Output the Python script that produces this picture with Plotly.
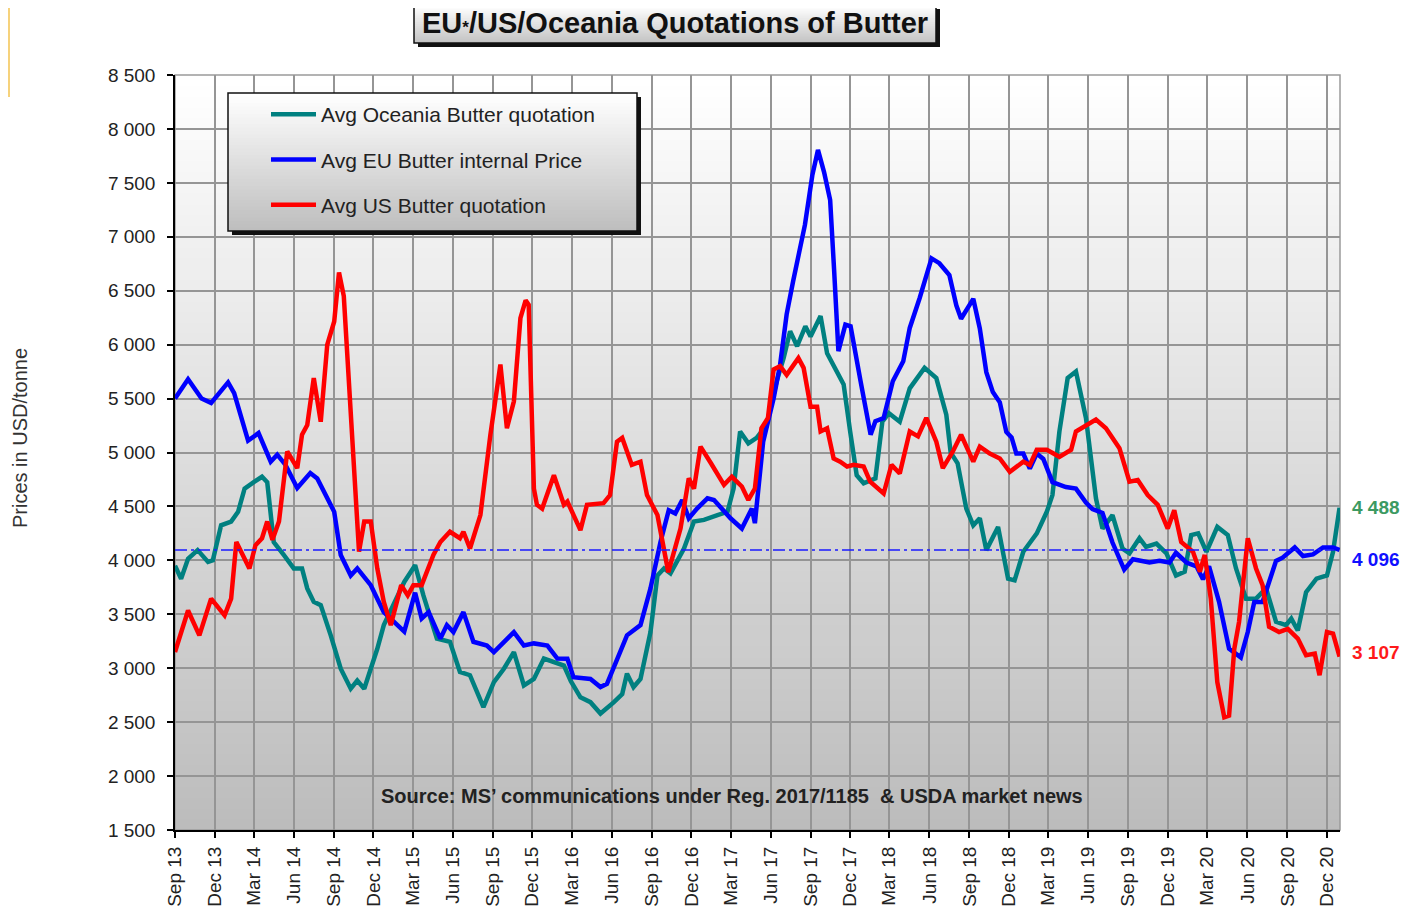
import plotly.graph_objects as go

# ---------------- data ----------------
eu_dates = ["2013-09-01","2013-10-01","2013-11-01","2013-11-23","2014-01-01","2014-01-15","2014-02-16","2014-03-12","2014-04-09","2014-04-24","2014-05-13","2014-06-09","2014-07-09","2014-07-25","2014-09-02","2014-09-17","2014-10-10","2014-10-25","2014-11-25","2014-12-25","2015-02-10","2015-03-07","2015-03-22","2015-04-07","2015-05-04","2015-05-19","2015-06-03","2015-06-26","2015-07-19","2015-08-19","2015-09-04","2015-10-20","2015-11-12","2015-12-05","2016-01-05","2016-01-28","2016-02-20","2016-03-05","2016-04-13","2016-05-06","2016-05-21","2016-07-06","2016-08-06","2016-08-29","2016-09-21","2016-10-10","2016-10-25","2016-11-10","2016-11-25","2016-12-14","2017-01-07","2017-01-22","2017-03-01","2017-03-27","2017-04-19","2017-04-26","2017-05-15","2017-06-08","2017-06-23","2017-07-08","2017-07-23","2017-08-19","2017-09-05","2017-09-18","2017-10-02","2017-10-16","2017-10-25","2017-11-04","2017-11-20","2017-12-02","2017-12-25","2018-01-17","2018-01-28","2018-02-16","2018-03-09","2018-04-02","2018-04-17","2018-05-10","2018-06-06","2018-06-24","2018-07-17","2018-08-02","2018-08-13","2018-09-10","2018-09-25","2018-10-10","2018-10-25","2018-11-10","2018-11-25","2018-12-07","2018-12-18","2019-01-03","2019-01-18","2019-02-03","2019-02-18","2019-03-11","2019-04-11","2019-05-04","2019-05-27","2019-06-11","2019-07-04","2019-07-27","2019-08-23","2019-09-12","2019-10-20","2019-11-12","2019-12-05","2019-12-20","2020-01-13","2020-02-05","2020-02-20","2020-03-05","2020-03-28","2020-04-20","2020-05-17","2020-06-02","2020-06-17","2020-07-06","2020-07-21","2020-08-06","2020-08-21","2020-09-18","2020-10-07","2020-10-30","2020-11-22","2020-12-15","2020-12-30"]
eu_values = [5500,5680,5500,5460,5650,5550,5110,5180,4915,4980,4885,4670,4810,4760,4450,4050,3860,3925,3770,3520,3340,3700,3460,3520,3275,3400,3335,3520,3245,3210,3150,3335,3210,3230,3210,3090,3088,2917,2900,2825,2855,3305,3400,3740,4170,4465,4435,4560,4390,4480,4575,4560,4390,4295,4480,4345,5100,5500,5815,6280,6590,7110,7570,7805,7600,7340,6700,5940,6185,6170,5660,5165,5290,5320,5660,5845,6155,6435,6800,6755,6645,6365,6240,6425,6150,5745,5560,5465,5190,5140,4990,4990,4850,4990,4940,4725,4680,4665,4535,4475,4440,4165,3915,4010,3980,3995,3980,4070,3980,3945,3825,3945,3615,3180,3100,3335,3615,3615,3800,3995,4025,4120,4040,4055,4120,4120,4096]

oce_dates = ["2013-09-01","2013-09-15","2013-10-01","2013-10-23","2013-11-16","2013-11-27","2013-12-16","2014-01-08","2014-01-24","2014-02-08","2014-03-01","2014-03-20","2014-04-01","2014-04-09","2014-04-16","2014-05-09","2014-06-01","2014-06-20","2014-07-02","2014-07-17","2014-08-02","2014-08-25","2014-09-17","2014-10-10","2014-10-25","2014-11-10","2014-12-10","2014-12-25","2015-02-10","2015-03-07","2015-03-26","2015-04-26","2015-05-26","2015-06-18","2015-07-11","2015-08-11","2015-09-04","2015-09-27","2015-10-20","2015-11-12","2015-12-05","2015-12-28","2016-01-20","2016-02-12","2016-02-28","2016-03-21","2016-04-13","2016-05-06","2016-06-06","2016-06-25","2016-07-06","2016-07-21","2016-08-06","2016-08-29","2016-09-14","2016-09-29","2016-10-14","2016-11-14","2016-12-07","2016-12-30","2017-01-30","2017-02-22","2017-03-08","2017-03-23","2017-04-11","2017-04-30","2017-05-23","2017-06-15","2017-07-01","2017-07-16","2017-08-01","2017-08-20","2017-09-01","2017-09-24","2017-10-09","2017-11-01","2017-11-16","2017-12-01","2017-12-16","2018-01-01","2018-01-28","2018-02-13","2018-02-28","2018-03-25","2018-04-17","2018-05-21","2018-06-17","2018-07-10","2018-07-20","2018-08-05","2018-08-25","2018-09-10","2018-09-25","2018-10-10","2018-11-06","2018-11-29","2018-12-14","2019-01-03","2019-02-03","2019-02-26","2019-03-11","2019-03-27","2019-04-15","2019-05-04","2019-05-27","2019-06-19","2019-07-04","2019-07-27","2019-08-19","2019-09-04","2019-09-27","2019-10-12","2019-11-05","2019-11-28","2019-12-20","2020-01-09","2020-01-24","2020-02-09","2020-02-28","2020-03-24","2020-04-17","2020-05-06","2020-05-29","2020-06-21","2020-07-14","2020-08-06","2020-08-29","2020-09-10","2020-09-25","2020-10-14","2020-11-07","2020-12-01","2020-12-15","2020-12-30"]
oce_values = [3950,3830,4015,4095,3985,4000,4325,4360,4450,4665,4725,4775,4725,4420,4170,4050,3925,3925,3740,3615,3585,3305,2995,2810,2885,2810,3180,3400,3800,3955,3675,3275,3245,2965,2935,2640,2870,2995,3150,2840,2900,3090,3055,3025,2880,2730,2685,2580,2685,2760,2950,2825,2900,3335,3860,3925,3880,4110,4360,4375,4420,4450,4665,5195,5085,5135,5255,5660,5875,6125,5985,6170,6075,6265,5920,5750,5630,5195,4790,4715,4760,5285,5365,5285,5595,5785,5690,5350,5000,4900,4480,4325,4390,4095,4310,3830,3815,4080,4250,4450,4605,5195,5690,5750,5320,4575,4295,4420,4110,4065,4205,4125,4155,4065,3860,3895,4235,4250,4080,4310,4235,3925,3645,3645,3740,3430,3400,3460,3350,3705,3830,3860,4080,4488]

us_dates = ["2013-09-01","2013-10-01","2013-10-27","2013-11-23","2013-12-24","2014-01-08","2014-01-20","2014-02-19","2014-03-05","2014-03-20","2014-04-01","2014-04-13","2014-04-28","2014-05-17","2014-06-09","2014-06-20","2014-07-02","2014-07-17","2014-08-02","2014-08-17","2014-09-02","2014-09-13","2014-09-24","2014-10-29","2014-11-10","2014-11-25","2014-12-10","2014-12-25","2015-01-10","2015-02-03","2015-02-18","2015-03-03","2015-03-22","2015-04-18","2015-05-04","2015-05-26","2015-06-18","2015-06-26","2015-07-11","2015-08-04","2015-08-27","2015-09-19","2015-10-04","2015-10-20","2015-11-04","2015-11-16","2015-11-23","2015-12-05","2015-12-12","2015-12-24","2016-01-20","2016-02-12","2016-02-20","2016-03-21","2016-04-05","2016-05-13","2016-05-28","2016-06-13","2016-06-25","2016-07-17","2016-08-06","2016-08-21","2016-09-14","2016-10-09","2016-11-06","2016-11-25","2016-12-07","2016-12-22","2017-01-15","2017-02-14","2017-03-04","2017-03-27","2017-04-11","2017-04-26","2017-05-11","2017-05-26","2017-06-08","2017-06-23","2017-07-08","2017-08-04","2017-08-16","2017-09-01","2017-09-16","2017-09-24","2017-10-09","2017-10-24","2017-11-08","2017-11-24","2017-12-09","2018-01-01","2018-01-16","2018-02-16","2018-03-06","2018-03-25","2018-04-17","2018-05-06","2018-05-25","2018-06-17","2018-07-02","2018-07-25","2018-08-13","2018-09-10","2018-09-25","2018-10-18","2018-11-10","2018-12-03","2019-01-03","2019-01-18","2019-02-03","2019-02-26","2019-03-27","2019-04-23","2019-05-04","2019-05-27","2019-06-19","2019-07-12","2019-08-12","2019-09-04","2019-09-23","2019-10-16","2019-11-08","2019-12-01","2019-12-16","2020-01-01","2020-01-28","2020-02-13","2020-02-24","2020-03-09","2020-03-24","2020-04-09","2020-04-20","2020-05-02","2020-05-13","2020-06-02","2020-06-21","2020-07-06","2020-07-21","2020-08-13","2020-09-02","2020-09-25","2020-10-14","2020-11-03","2020-11-14","2020-12-01","2020-12-15","2020-12-30"]
us_values = [3150,3535,3305,3645,3490,3645,4170,3925,4140,4205,4360,4190,4360,5010,4855,5165,5255,5690,5285,6000,6215,6670,6450,4080,4360,4360,3925,3615,3400,3770,3675,3770,3770,4050,4170,4265,4205,4265,4110,4420,5165,5815,5225,5475,6245,6410,6370,4665,4515,4480,4790,4515,4545,4280,4515,4530,4605,5100,5135,4885,4915,4605,4420,3890,4295,4760,4665,5055,4900,4700,4775,4685,4560,4665,5225,5320,5770,5800,5720,5875,5785,5425,5425,5195,5225,4945,4915,4870,4885,4870,4730,4620,4885,4805,5195,5150,5320,5100,4855,5010,5165,4915,5055,4990,4945,4820,4915,4885,5025,5025,4960,5025,5195,5255,5305,5225,5040,4730,4745,4605,4515,4295,4465,4170,4080,3895,4050,3645,2870,2545,2560,3180,3430,4205,3925,3770,3385,3335,3365,3275,3120,3135,2935,3335,3320,3107]

series_names = ["Avg Oceania Butter quotation", "Avg EU Butter internal Price", "Avg US Butter quotation"]
last_values = [4488, 4096, 3107]
eu_reference = 4096
y_ticks = list(range(1500, 9000, 500))

# ---------------- geometry (page pixels; the page body adds an 8px offset) ----------------
OFF = 8
FW, FH = 1400, 904
L, T = 175 - OFF, 75 - OFF
R = FW - (1340 - OFF)
B = FH - (830 - OFF)
PW, PH = FW - L - R, FH - T - B

def px_x(x):
    return (x - OFF - L) / PW

def px_y(y):
    return (FH - B - (y - OFF)) / PH

def blend(c0, c1, t):
    return "rgb(%d,%d,%d)" % tuple(round(a + (b - a) * t) for a, b in zip(c0, c1))

shapes = []

def gradient_box(x0, y0, x1, y1, top, bottom, n, layer):
    for i in range(n):
        ya = y0 + (y1 - y0) * i / n
        yb = min(y0 + (y1 - y0) * (i + 1) / n + 2.0, y1)
        shapes.append(dict(type="rect", xref="paper", yref="paper",
                           x0=px_x(x0), x1=px_x(x1), y0=px_y(ya), y1=px_y(yb),
                           fillcolor=blend(top, bottom, i / (n - 1)), line=dict(width=0), layer=layer))

# plot background gradient
gradient_box(175, 75, 1340, 830, (255, 255, 255), (188, 188, 188), 70, "below")

# plot border (gray)
shapes.append(dict(type="rect", xref="paper", yref="paper", x0=0, x1=1, y0=0, y1=1,
                   line=dict(color="#9a9a9a", width=1.5), fillcolor="rgba(0,0,0,0)", layer="below"))

# reference dash-dot line
shapes.append(dict(type="line", xref="paper", yref="y", x0=0, x1=0.995, y0=eu_reference, y1=eu_reference,
                   line=dict(color="#1a1aff", width=1.5, dash="12px,4px,3px,4px"), layer="above"))

# legend box with shadow
shapes.append(dict(type="rect", xref="paper", yref="paper", x0=px_x(232), x1=px_x(641), y0=px_y(97), y1=px_y(235),
                   fillcolor="#111111", line=dict(width=0), layer="above"))
gradient_box(228, 93, 637, 231, (255, 255, 255), (190, 190, 190), 40, "above")
shapes.append(dict(type="rect", xref="paper", yref="paper", x0=px_x(228), x1=px_x(637), y0=px_y(93), y1=px_y(231),
                   fillcolor="rgba(0,0,0,0)", line=dict(color="#111111", width=1.5), layer="above"))

# title box with shadow
shapes.append(dict(type="rect", xref="paper", yref="paper", x0=px_x(418), x1=px_x(940), y0=px_y(9), y1=px_y(47),
                   fillcolor="#111111", line=dict(width=0), layer="above"))
gradient_box(414, 5, 936, 43, (255, 255, 255), (196, 196, 196), 20, "above")
shapes.append(dict(type="rect", xref="paper", yref="paper", x0=px_x(414), x1=px_x(936), y0=px_y(5), y1=px_y(43),
                   fillcolor="rgba(0,0,0,0)", line=dict(color="#111111", width=1.5), layer="above"))

# small orange edge mark at top-left of page
shapes.append(dict(type="line", xref="paper", yref="paper", x0=px_x(9), x1=px_x(9), y0=px_y(8), y1=px_y(97),
                   line=dict(color="#f6d27c", width=2), layer="above"))

fig = go.Figure()
colors = ["#008080", "#0000ff", "#ff0000"]
data = [(oce_dates, oce_values), (eu_dates, eu_values), (us_dates, us_values)]
for i, ((d, v), name, c) in enumerate(zip(data, series_names, colors)):
    fig.add_trace(go.Scatter(x=d, y=v, mode="lines", name=name, legendgroup="g%d" % i,
                             line=dict(color=c, width=4.5), hoverinfo="skip"))

label_colors = ["#3c9a62", "#1010ff", "#ff1a1a"]
label_shift = [0, -9, 4]
last_dates = [oce_dates[-1], eu_dates[-1], us_dates[-1]]
annotations = []
for val, col, dy, dt in zip(last_values, label_colors, label_shift, last_dates):
    annotations.append(dict(x=dt, y=val, xref="x", yref="y", xanchor="left", yanchor="middle",
                            xshift=10, yshift=dy, showarrow=False,
                            text=f"{val:,}".replace(",", " "),
                            font=dict(family="Liberation Sans, Arial", size=19, color=col, weight="bold")))

annotations.append(dict(x=px_x(675), y=px_y(23), xref="paper", yref="paper", showarrow=False,
                        xanchor="center", yanchor="middle",
                        text="EU<span style='font-size:17px'>*</span>/US/Oceania Quotations of Butter",
                        font=dict(family="Liberation Sans, Arial", size=29, color="#111111", weight="bold")))
annotations.append(dict(x=px_x(732), y=px_y(796), xref="paper", yref="paper", showarrow=False,
                        xanchor="center", yanchor="middle",
                        text="Source: MS\u2019 communications under Reg. 2017/1185  &amp; USDA market news",
                        font=dict(family="Liberation Sans, Arial", size=20, color="#222222", weight="bold")))
annotations.append(dict(x=px_x(20), y=px_y(438), xref="paper", yref="paper", showarrow=False,
                        textangle=-90, xanchor="center", yanchor="middle",
                        text="Prices in USD/tonne",
                        font=dict(family="Liberation Sans, Arial", size=20, color="#333333")))

fig.update_layout(
    width=FW, height=FH,
    margin=dict(l=L, r=R, t=T, b=B, pad=0, autoexpand=False),
    paper_bgcolor="white", plot_bgcolor="rgba(0,0,0,0)",
    separators=". ",
    shapes=shapes, annotations=annotations,
    showlegend=True,
    legend=dict(x=px_x(266), y=px_y(94), xanchor="left", yanchor="top",
                bgcolor="rgba(0,0,0,0)", borderwidth=0, tracegroupgap=15,
                traceorder="grouped", itemwidth=45,
                font=dict(family="Liberation Sans, Arial", size=21, color="#222222")),
    xaxis=dict(type="date", range=["2013-09-01", "2020-12-31"], tick0="2013-09-01", dtick="M3",
               tickformat="%b %y", tickangle=-90, ticks="outside", ticklen=6, tickcolor="black",
               tickwidth=1.5, showgrid=True, gridcolor="#959595", gridwidth=1.6, automargin=False,
               showline=True, linecolor="black", linewidth=2, zeroline=False, ticklabelstandoff=1,
               tickfont=dict(family="Liberation Sans, Arial", size=19, color="#222222")),
    yaxis=dict(range=[1500, 8500], tickvals=y_ticks, tickformat=",", ticks="outside", ticklen=6,
               tickcolor="black", tickwidth=1.5, showgrid=True, gridcolor="#959595", gridwidth=1.6,
               showline=True, linecolor="black", linewidth=1.5, zeroline=False, ticklabelstandoff=8,
               automargin=False,
               tickfont=dict(family="Liberation Sans, Arial", size=19, color="#222222")),
)

fig.write_html("out.html")
